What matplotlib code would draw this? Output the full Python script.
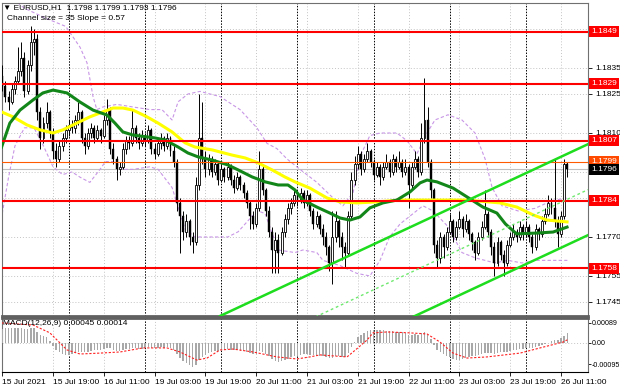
import matplotlib
matplotlib.use('Agg')
import matplotlib.pyplot as plt
import matplotlib.transforms as mtransforms
import numpy as np

plt.rcParams['font.family'] = ['Liberation Sans', 'DejaVu Sans']

# EURUSD H1, bar index = trading hours counted from 15 Jul 00:00
first_bar = 3
opens = [1.1832, 1.1828, 1.1824, 1.1822, 1.1827, 1.1830, 1.1834, 1.1839, 1.1826, 1.1836,
         1.1845, 1.1846, 1.1818, 1.1808, 1.1814, 1.1818, 1.1810, 1.1803, 1.1800, 1.1805,
         1.1808, 1.1811, 1.1813, 1.1812, 1.1815, 1.1818, 1.1808, 1.1805, 1.1810, 1.1812,
         1.1808, 1.1811, 1.1809, 1.1815, 1.1819, 1.1804, 1.1800, 1.1796, 1.1797, 1.1804,
         1.1807, 1.1806, 1.1812, 1.1808, 1.1806, 1.1809, 1.1807, 1.1811, 1.1804, 1.1802,
         1.1806, 1.1808, 1.1805, 1.1808, 1.1803, 1.1799, 1.1783, 1.1778, 1.1772, 1.1776,
         1.1770, 1.1768, 1.1790, 1.1808, 1.1800, 1.1796, 1.1800, 1.1795, 1.1798, 1.1792,
         1.1796, 1.1793, 1.1797, 1.1792, 1.1789, 1.1793, 1.1790, 1.1787, 1.1783, 1.1778,
         1.1775, 1.1781, 1.1796, 1.1788, 1.1780, 1.1772, 1.1765, 1.1769, 1.1764, 1.1772,
         1.1777, 1.1781, 1.1783, 1.1786, 1.1784, 1.1787, 1.1783, 1.1786, 1.1780, 1.1775,
         1.1778, 1.1773, 1.1770, 1.1766, 1.1760, 1.1770, 1.1776, 1.1770, 1.1766, 1.1764,
         1.1778, 1.1792, 1.1798, 1.1802, 1.1796, 1.1800, 1.1803, 1.1799, 1.1794, 1.1797,
         1.1793, 1.1797, 1.1799, 1.1795, 1.1800, 1.1797, 1.1799, 1.1795, 1.1797, 1.1790,
         1.1797, 1.1800, 1.1795, 1.1808, 1.1815, 1.1799, 1.1788, 1.1767, 1.1762, 1.1770,
         1.1766, 1.1772, 1.1776, 1.1770, 1.1774, 1.1777, 1.1773, 1.1776, 1.1771, 1.1768,
         1.1764, 1.1770, 1.1774, 1.1779, 1.1772, 1.1766, 1.1760, 1.1768, 1.1763, 1.1760,
         1.1767, 1.1770, 1.1772, 1.1770, 1.1774, 1.1771, 1.1774, 1.1770, 1.1766, 1.1773,
         1.1771, 1.1776, 1.1779, 1.1783, 1.1781, 1.1776, 1.1771, 1.1778, 1.1798]
highs = [1.1836, 1.1830, 1.1826, 1.1829, 1.1832, 1.1843, 1.1845, 1.1841, 1.1838, 1.1851,
         1.1850, 1.1848, 1.1820, 1.1816, 1.1822, 1.1819, 1.1812, 1.1806, 1.1807, 1.1810,
         1.1813, 1.1815, 1.1815, 1.1817, 1.1822, 1.1819, 1.1810, 1.1812, 1.1814, 1.1813,
         1.1813, 1.1812, 1.1817, 1.1823, 1.1820, 1.1806, 1.1801, 1.1799, 1.1806, 1.1809,
         1.1809, 1.1819, 1.1813, 1.1810, 1.1811, 1.1810, 1.1813, 1.1812, 1.1806, 1.1808,
         1.1810, 1.1809, 1.1810, 1.1809, 1.1805, 1.1800, 1.1785, 1.1780, 1.1779, 1.1777,
         1.1772, 1.1793, 1.1825, 1.1822, 1.1803, 1.1802, 1.1801, 1.1800, 1.1799, 1.1798,
         1.1797, 1.1799, 1.1798, 1.1794, 1.1795, 1.1794, 1.1791, 1.1788, 1.1784, 1.1780,
         1.1783, 1.1803, 1.1798, 1.1789, 1.1782, 1.1774, 1.1772, 1.1771, 1.1774, 1.1779,
         1.1783, 1.1785, 1.1788, 1.1787, 1.1789, 1.1788, 1.1788, 1.1787, 1.1781, 1.1780,
         1.1779, 1.1775, 1.1772, 1.1767, 1.1780, 1.1780, 1.1777, 1.1772, 1.1768, 1.1780,
         1.1795, 1.1801, 1.1805, 1.1803, 1.1802, 1.1806, 1.1804, 1.1800, 1.1799, 1.1798,
         1.1799, 1.1802, 1.1800, 1.1802, 1.1801, 1.1803, 1.1800, 1.1800, 1.1798, 1.1799,
         1.1803, 1.1801, 1.1814, 1.1831, 1.1820, 1.1800, 1.1789, 1.1769, 1.1772, 1.1771,
         1.1774, 1.1779, 1.1777, 1.1776, 1.1780, 1.1778, 1.1779, 1.1777, 1.1772, 1.1769,
         1.1772, 1.1776, 1.1788, 1.1780, 1.1773, 1.1768, 1.1770, 1.1769, 1.1765, 1.1769,
         1.1772, 1.1775, 1.1773, 1.1776, 1.1775, 1.1776, 1.1775, 1.1771, 1.1775, 1.1774,
         1.1778, 1.1781, 1.1786, 1.1785, 1.1800, 1.1778, 1.1780, 1.1800, 1.1799]
lows = [1.1826, 1.1822, 1.1819, 1.1821, 1.1825, 1.1829, 1.1832, 1.1824, 1.1825, 1.1834,
        1.1840, 1.1815, 1.1804, 1.1806, 1.1812, 1.1808, 1.1800, 1.1797, 1.1799, 1.1803,
        1.1806, 1.1809, 1.1810, 1.1810, 1.1813, 1.1806, 1.1802, 1.1804, 1.1808, 1.1806,
        1.1807, 1.1806, 1.1808, 1.1813, 1.1802, 1.1798, 1.1792, 1.1794, 1.1796, 1.1802,
        1.1804, 1.1805, 1.1806, 1.1804, 1.1805, 1.1805, 1.1806, 1.1802, 1.1800, 1.1801,
        1.1804, 1.1803, 1.1804, 1.1801, 1.1797, 1.1780, 1.1764, 1.1769, 1.1770, 1.1767,
        1.1764, 1.1767, 1.1788, 1.1798, 1.1793, 1.1794, 1.1793, 1.1794, 1.1790, 1.1791,
        1.1791, 1.1792, 1.1790, 1.1787, 1.1788, 1.1788, 1.1785, 1.1781, 1.1773, 1.1773,
        1.1774, 1.1780, 1.1786, 1.1778, 1.1770, 1.1756, 1.1756, 1.1756, 1.1763, 1.1770,
        1.1775, 1.1779, 1.1782, 1.1782, 1.1783, 1.1781, 1.1782, 1.1778, 1.1773, 1.1774,
        1.1771, 1.1767, 1.1763, 1.1757, 1.1752, 1.1768, 1.1766, 1.1761, 1.1758, 1.1763,
        1.1777, 1.1790, 1.1796, 1.1794, 1.1795, 1.1799, 1.1797, 1.1792, 1.1793, 1.1790,
        1.1792, 1.1796, 1.1793, 1.1794, 1.1795, 1.1796, 1.1793, 1.1794, 1.1781, 1.1789,
        1.1796, 1.1793, 1.1794, 1.1806, 1.1797, 1.1785, 1.1764, 1.1758, 1.1760, 1.1762,
        1.1765, 1.1771, 1.1768, 1.1769, 1.1773, 1.1770, 1.1772, 1.1769, 1.1765, 1.1761,
        1.1763, 1.1769, 1.1773, 1.1770, 1.1763, 1.1755, 1.1759, 1.1761, 1.1755, 1.1759,
        1.1766, 1.1769, 1.1768, 1.1769, 1.1769, 1.1770, 1.1768, 1.1764, 1.1765, 1.1769,
        1.1770, 1.1775, 1.1778, 1.1779, 1.1774, 1.1766, 1.1770, 1.1777, 1.1793]
closes = [1.1828, 1.1824, 1.1822, 1.1827, 1.1830, 1.1834, 1.1839, 1.1826, 1.1836, 1.1845,
          1.1846, 1.1818, 1.1808, 1.1814, 1.1818, 1.1810, 1.1803, 1.1800, 1.1805, 1.1808,
          1.1811, 1.1813, 1.1812, 1.1815, 1.1818, 1.1808, 1.1805, 1.1810, 1.1812, 1.1808,
          1.1811, 1.1809, 1.1815, 1.1819, 1.1804, 1.1800, 1.1796, 1.1797, 1.1804, 1.1807,
          1.1806, 1.1812, 1.1808, 1.1806, 1.1809, 1.1807, 1.1811, 1.1804, 1.1802, 1.1806,
          1.1808, 1.1805, 1.1808, 1.1803, 1.1799, 1.1783, 1.1778, 1.1772, 1.1776, 1.1770,
          1.1768, 1.1790, 1.1808, 1.1800, 1.1796, 1.1800, 1.1795, 1.1798, 1.1792, 1.1796,
          1.1793, 1.1797, 1.1792, 1.1789, 1.1793, 1.1790, 1.1787, 1.1783, 1.1778, 1.1775,
          1.1781, 1.1796, 1.1788, 1.1780, 1.1772, 1.1765, 1.1769, 1.1764, 1.1772, 1.1777,
          1.1781, 1.1783, 1.1786, 1.1784, 1.1787, 1.1783, 1.1786, 1.1780, 1.1775, 1.1778,
          1.1773, 1.1770, 1.1766, 1.1760, 1.1770, 1.1776, 1.1770, 1.1766, 1.1764, 1.1778,
          1.1792, 1.1798, 1.1802, 1.1796, 1.1800, 1.1803, 1.1799, 1.1794, 1.1797, 1.1793,
          1.1797, 1.1799, 1.1795, 1.1800, 1.1797, 1.1799, 1.1795, 1.1797, 1.1790, 1.1797,
          1.1800, 1.1795, 1.1808, 1.1815, 1.1799, 1.1788, 1.1767, 1.1762, 1.1770, 1.1766,
          1.1772, 1.1776, 1.1770, 1.1774, 1.1777, 1.1773, 1.1776, 1.1771, 1.1768, 1.1764,
          1.1770, 1.1774, 1.1779, 1.1772, 1.1766, 1.1760, 1.1768, 1.1763, 1.1760, 1.1767,
          1.1770, 1.1772, 1.1770, 1.1774, 1.1771, 1.1774, 1.1770, 1.1766, 1.1773, 1.1771,
          1.1776, 1.1779, 1.1783, 1.1781, 1.1776, 1.1771, 1.1778, 1.1798, 1.1796]

# moving averages
ma_green_x = [2.8, 5.4, 8.6, 12.7, 15.8, 19, 23.4, 27.5, 31.6, 36, 38.5, 41, 44.2, 48.6,
              51.1, 54.3, 58.4, 61.5, 64.7, 69.1, 74.1, 77.3, 81.7, 85.8, 89.9, 93, 95.2,
              97.7, 102.1, 106.2, 109.4, 112.5, 115.7, 118.8, 122.9, 127.3, 131.4, 134.6,
              136.8, 139.9, 145, 149.4, 154.4, 158.8, 161.5, 165, 171.4, 176.5, 180.9]
ma_green_y = [1.18046, 1.18138, 1.18188, 1.18227, 1.18254, 1.18265, 1.18254, 1.18219,
              1.18188, 1.18169, 1.18138, 1.18104, 1.18092, 1.18085, 1.18081, 1.18073,
              1.18046, 1.18023, 1.18008, 1.17996, 1.17977, 1.17958, 1.17931, 1.17912,
              1.17900, 1.17900, 1.17881, 1.17842, 1.17815, 1.17792, 1.17773, 1.17765,
              1.17777, 1.17812, 1.17831, 1.17842, 1.17873, 1.17908, 1.17919, 1.17912,
              1.17888, 1.17854, 1.17815, 1.17792, 1.17750, 1.17712, 1.17715, 1.17719, 1.17738]
ma_yellow_x = [2.8, 6.4, 10.8, 14.9, 19, 22.1, 26.5, 30.6, 34.7, 37.9, 41, 44.2, 48.6,
               52.1, 56.5, 60.6, 63.7, 69.1, 75.4, 79.5, 83.6, 88, 92, 95.2, 99.9, 105.3,
               109.4, 114.7, 121, 128.3, 139.9, 149.4, 159.8, 165.1, 170.2, 174.6, 180.9]
ma_yellow_y = [1.18181, 1.18162, 1.18131, 1.18112, 1.18100, 1.18112, 1.18138, 1.18162,
               1.18181, 1.18196, 1.18196, 1.18188, 1.18162, 1.18138, 1.18104, 1.18062,
               1.18046, 1.18035, 1.18015, 1.18004, 1.17985, 1.17958, 1.17931, 1.17912,
               1.17888, 1.17850, 1.17835, 1.17831, 1.17835, 1.17842, 1.17842, 1.17842,
               1.17831, 1.17815, 1.17785, 1.17765, 1.17758]

# envelope bands (violet dashed)
band_up_x = [3, 10, 17, 23, 27.5, 29.7, 31.6, 32.8, 34.7, 39.1, 44.2, 49.5, 53.3, 56.5,
             58.4, 61.5, 65.3, 71.6, 77.9, 83.2, 86.4, 89.5, 92.7, 96.8, 102.1, 107.2,
             110.3, 113.5, 115.7, 118.8, 122, 127.3, 130.5, 133.6, 136.8, 139.3, 143.4,
             147.8, 151.9, 155.1, 157.3, 160.4, 165.5, 170.8, 176.2, 181]
band_up_y = [1.1865, 1.1858, 1.1854, 1.1851, 1.1843, 1.1837, 1.1824, 1.1819, 1.1820,
             1.1821, 1.1820, 1.1819, 1.1819, 1.1815, 1.1822, 1.1825, 1.1826, 1.1824,
             1.1819, 1.1812, 1.1806, 1.1804, 1.1800, 1.1796, 1.1791, 1.1785, 1.1782,
             1.1787, 1.1801, 1.1809, 1.1810, 1.1810, 1.1807, 1.1802, 1.1810, 1.1815,
             1.1817, 1.1815, 1.1810, 1.1800, 1.1789, 1.1782, 1.1780, 1.1781, 1.1784, 1.1785]
band_lo_x = [3, 5, 7, 10, 13, 16, 19, 22, 25, 27.5, 30.6, 33.8, 35.5, 38.5, 41, 44.2,
             49.5, 52.1, 56.5, 60.6, 63.7, 69.1, 74.1, 77.3, 81.7, 83.6, 85.8, 89.9, 95.2,
             97.7, 102.1, 104, 109.4, 114.7, 118.8, 122, 125, 128.3, 131.4, 135.5, 138.7,
             143.4, 147.8, 151.9, 158.2, 162.3, 166.7, 170.8, 181]
band_lo_y = [1.1779, 1.1793, 1.1805, 1.1812, 1.1812, 1.1805, 1.1797, 1.1794, 1.1795,
             1.1793, 1.1791, 1.1796, 1.1799, 1.1799, 1.1796, 1.1796, 1.1797, 1.1796,
             1.1789, 1.1773, 1.1770, 1.1770, 1.1770, 1.1772, 1.1778, 1.1780, 1.1779,
             1.1765, 1.1764, 1.1765, 1.1764, 1.1761, 1.1759, 1.1756, 1.1755, 1.1761,
             1.1770, 1.1775, 1.1778, 1.1782, 1.1780, 1.1774, 1.1764, 1.1762, 1.1760,
             1.1761, 1.1760, 1.1761, 1.1761]

# MACD(12,26,9)
macd_hist = [0.00060, 0.00066, 0.00068, 0.00068, 0.00068, 0.00067, 0.00067, 0.00062, 0.00060, 0.00065,
             0.00066, 0.00050, 0.00036, 0.00030, 0.00025, 0.00010, -0.00012, -0.00030, -0.00040, -0.00048,
             -0.00052, -0.00053, -0.00050, -0.00046, -0.00042, -0.00040, -0.00042, -0.00038, -0.00034, -0.00033,
             -0.00032, -0.00030, -0.00028, -0.00022, -0.00024, -0.00030, -0.00036, -0.00036, -0.00032, -0.00028,
             -0.00028, -0.00022, -0.00024, -0.00026, -0.00025, -0.00024, -0.00020, -0.00022, -0.00024, -0.00022,
             -0.00020, -0.00021, -0.00020, -0.00024, -0.00030, -0.00048, -0.00066, -0.00080, -0.00090, -0.00100,
             -0.00108, -0.00098, -0.00075, -0.00062, -0.00052, -0.00045, -0.00040, -0.00036, -0.00034, -0.00030,
             -0.00029, -0.00028, -0.00030, -0.00032, -0.00033, -0.00034, -0.00036, -0.00039, -0.00044, -0.00048,
             -0.00047, -0.00036, -0.00040, -0.00048, -0.00058, -0.00070, -0.00080, -0.00086, -0.00082, -0.00075,
             -0.00070, -0.00064, -0.00060, -0.00058, -0.00052, -0.00050, -0.00050, -0.00052, -0.00055, -0.00056,
             -0.00058, -0.00060, -0.00062, -0.00066, -0.00066, -0.00060, -0.00060, -0.00062, -0.00064, -0.00045,
             -0.00020, 0.00005, 0.00025, 0.00035, 0.00045, 0.00055, 0.00058, 0.00058, 0.00058, 0.00056,
             0.00056, 0.00055, 0.00052, 0.00052, 0.00050, 0.00050, 0.00048, 0.00046, 0.00036, 0.00036,
             0.00038, 0.00034, 0.00044, 0.00050, 0.00036, 0.00018, -0.00010, -0.00030, -0.00040, -0.00050,
             -0.00058, -0.00064, -0.00072, -0.00075, -0.00074, -0.00070, -0.00066, -0.00062, -0.00060, -0.00058,
             -0.00054, -0.00050, -0.00044, -0.00044, -0.00046, -0.00048, -0.00044, -0.00042, -0.00042, -0.00038,
             -0.00035, -0.00032, -0.00030, -0.00027, -0.00025, -0.00024, -0.00022, -0.00022, -0.00018, -0.00014,
             -0.00010, -0.00006, 0.00000, 0.00010, 0.00015, 0.00012, 0.00020, 0.00032, 0.00045]
signal_x = [2.8, 12.7, 18, 23.4, 27.5, 33.8, 40.1, 47.3, 54.9, 59, 64.3, 67.5, 71.6, 75.7,
            82, 89.5, 95.8, 99.9, 103.1, 111.6, 113.5, 117.9, 119.8, 124.2, 131.4, 136.8,
            140.9, 145, 149.4, 155.7, 166.1, 172.4, 179.6, 181]
signal_y = [0.00089, 0.00080, 0.00045, -0.00031, -0.00049, -0.00045, -0.00040, -0.00022,
            -0.00022, -0.00040, -0.00076, -0.00067, -0.00031, -0.00027, -0.00040, -0.00062,
            -0.00071, -0.00062, -0.00053, -0.00062, -0.00040, 0.00013, 0.00045, 0.00049,
            0.00045, 0.00040, 0.00004, -0.00045, -0.00067, -0.00062, -0.00045, -0.00022,
            0.00004, 0.00014]

# levels and channel
red_levels = [1.1849, 1.1829, 1.1807, 1.1784, 1.1758]
orange_level = 1.1799
bid = 1.1796
chan_x = [71.6, 187.5]
chan_top = [1.17396, 1.18057]
chan_size = 0.0035

price_grid = [1.1850, 1.1835, 1.1825, 1.1810, 1.1795, 1.1785, 1.1770, 1.1755, 1.1745]
price_ticks = [1.1835, 1.1825, 1.1810, 1.1770, 1.1755, 1.1745]
macd_ticks = [0.00089, 0.0, -0.00095]
macd_tick_labels = ['0.00089', '0.00', '-0.00095']
time_pos = [3, 19, 35, 51, 67, 83, 99, 115, 131, 147, 163, 179]
time_labels = ['15 Jul 2021', '15 Jul 19:00', '16 Jul 11:00', '19 Jul 03:00', '19 Jul 19:00',
               '20 Jul 11:00', '21 Jul 03:00', '21 Jul 19:00', '22 Jul 11:00', '23 Jul 03:00',
               '23 Jul 19:00', '26 Jul 11:00']
day_starts = [24, 48, 72, 96, 120, 144, 168]

fig = plt.figure(figsize=(6.2, 3.88), dpi=100)
ax = fig.add_axes([2 / 620, 72 / 388, 586 / 620, 313 / 388])
axm = fig.add_axes([2 / 620, 16 / 388, 586 / 620, 54 / 388])

xlim = (2.93, 187.5)
fs = 6

for a in (ax, axm):
    a.set_xlim(*xlim)
    for t in time_pos:
        a.axvline(t, color='#c4c4c4', lw=0.7, ls=(0, (1, 2)), zorder=0)
    for d in day_starts:
        a.axvline(d, color='black', lw=0.7, ls=(0, (1.5, 1.5)), zorder=1)
    for s in a.spines.values():
        s.set_color('#707070')
        s.set_linewidth(0.8)

# main chart
ax.set_ylim(1.17396, 1.18600)
for p in price_grid:
    ax.axhline(p, color='#c4c4c4', lw=0.7, ls=(0, (1, 2)), zorder=0)
ax.axhline(bid, color='#c0c0c0', lw=0.8, zorder=1)

x = np.arange(first_bar, first_bar + len(closes))
o = np.array(opens)
h = np.array(highs)
l = np.array(lows)
c = np.array(closes)
up = c >= o
ax.vlines(x, l, h, color='black', lw=0.7, zorder=3)
ax.bar(x[up], (c - o)[up], bottom=o[up], width=0.62, facecolor='white',
       edgecolor='black', linewidth=0.6, zorder=4)
ax.bar(x[~up], (o - c)[~up], bottom=c[~up], width=0.62, color='black',
       linewidth=0.3, edgecolor='black', zorder=4)

ax.plot(band_up_x, band_up_y, color='#c896e6', lw=0.8, ls=(0, (3, 2)), zorder=2)
ax.plot(band_lo_x, band_lo_y, color='#c896e6', lw=0.8, ls=(0, (3, 2)), zorder=2)
ax.plot(ma_yellow_x, ma_yellow_y, color='#ffff00', lw=2.2, zorder=5)
ax.plot(ma_green_x, ma_green_y, color='#13861a', lw=2.2, zorder=5)

for v in red_levels:
    ax.axhline(v, color='#ff0000', lw=1.5, zorder=6)
ax.axhline(orange_level, color='#ff5a00', lw=0.8, zorder=6)

cx = np.array(chan_x)
ct = np.array(chan_top)
ax.plot(cx, ct, color='#1edc1e', lw=1.8, zorder=6)
ax.plot(cx, ct - chan_size, color='#1edc1e', lw=1.8, zorder=6)
ax.plot(cx, ct - chan_size / 2, color='#6ee86e', lw=1, ls=(0, (2, 2)), zorder=6)

ax.yaxis.tick_right()
ax.set_yticks(price_ticks)
ax.set_yticklabels([f'{p:.4f}' for p in price_ticks])
ax.tick_params(axis='y', length=3, width=0.6, labelsize=fs, pad=2, colors='black')
ax.set_xticks([])

trans = mtransforms.blended_transform_factory(ax.transAxes, ax.transData)
box_style = 'square,pad=0.25'
for v in red_levels:
    ax.text(1.005, v, f'{v:.4f}', transform=trans, ha='left', va='center', fontsize=fs,
            color='white', clip_on=False, zorder=10,
            bbox=dict(boxstyle=box_style, fc='#ff0000', ec='none'))
ax.text(1.005, orange_level, f'{orange_level:.4f}', transform=trans, ha='left', va='center',
        fontsize=fs, color='white', clip_on=False, zorder=10,
        bbox=dict(boxstyle=box_style, fc='#ff4a00', ec='none'))
ax.text(1.005, bid, f'{bid:.4f}', transform=trans, ha='left', va='center', fontsize=fs,
        color='white', clip_on=False, zorder=11,
        bbox=dict(boxstyle=box_style, fc='black', ec='none'))

ax.text(0.002, 0.984, '\u25bc EURUSD,H1  1.1798 1.1799 1.1793 1.1796', transform=ax.transAxes,
        ha='left', va='center', fontsize=fs, zorder=12)
ax.text(0.009, 0.950, 'Channel size = 35 Slope = 0.57', transform=ax.transAxes,
        ha='left', va='center', fontsize=fs, zorder=12)
ax.spines['bottom'].set_linewidth(2)
ax.spines['bottom'].set_color('#606060')

# MACD pane
axm.set_ylim(-0.00129, 0.00111)
axm.axhline(0, color='#c4c4c4', lw=0.7, ls=(0, (1, 2)), zorder=0)
axm.bar(x, macd_hist, width=0.45, color='#a8a8a8', zorder=3)
axm.plot(signal_x, signal_y, color='#ff2020', lw=0.8, ls=(0, (2, 1.5)), zorder=4)
axm.text(0.002, 0.89, 'MACD(12,26,9) 0.00045 0.00014', transform=axm.transAxes,
         ha='left', va='center', fontsize=fs, zorder=12)
axm.yaxis.tick_right()
axm.set_yticks(macd_ticks)
axm.set_yticklabels(macd_tick_labels)
axm.tick_params(axis='y', length=2, width=0.6, labelsize=5.1, pad=1)
axm.set_xticks(time_pos)
axm.set_xticklabels(time_labels, ha='left')
axm.tick_params(axis='x', length=3, width=0.6, labelsize=fs, pad=2)
axm.spines['top'].set_linewidth(2)
axm.spines['top'].set_color('#606060')
axm.spines['bottom'].set_color('black')

fig.savefig('out.png', dpi=100, facecolor='white')
